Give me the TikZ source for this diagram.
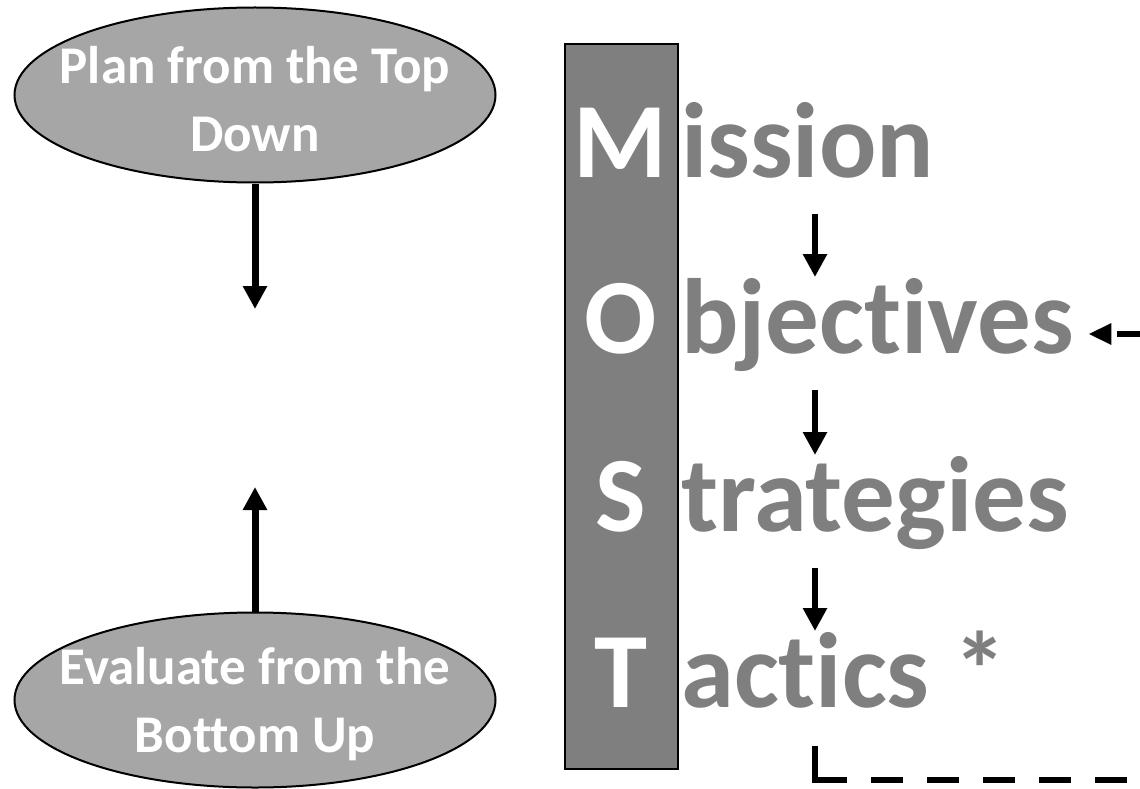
\documentclass[tikz,border=0pt]{standalone}
\usepackage{fontspec}
\setmainfont{Carlito}[Ligatures=NoCommon]
\usetikzlibrary{shapes.geometric,arrows.meta,calc}
\definecolor{ovalgray}{HTML}{A6A6A6}
\definecolor{bargray}{HTML}{7F7F7F}
\definecolor{wordgray}{HTML}{7F7F7F}

\begin{document}
\begin{tikzpicture}[x=1pt,y=-1pt,
    oval/.style={ellipse, draw=black, line width=2pt, fill=ovalgray,
                 minimum width=481pt, minimum height=175pt, inner sep=0pt},
    ovaltext/.style={align=center, text=white, inner sep=0pt,
                     font=\fontsize{53}{68}\selectfont\bfseries},
    bigletter/.style={anchor=base, text=white, inner sep=0pt,
                      font=\fontsize{107}{107}\selectfont\bfseries},
    word/.style={anchor=base west, text=wordgray, inner sep=0pt,
                 font=\fontsize{107}{107}\selectfont\bfseries},
    bigflow/.style={line width=7pt, -{Triangle[width=23pt,length=23pt]}},
    flow/.style={line width=6pt, -{Triangle[width=23pt,length=23pt]}},
    fbline/.style={line width=6pt}]

  \useasboundingbox (0,0) rectangle (1140,789);
  \clip (0,0) rectangle (1140,789);

  % planning ovals
  \node[oval] (plan) at (255,95) {};
  \node[ovaltext] (plantext) at ($(plan.center)+(0,4)$) {Plan from the Top\\Down};
  \node[oval] (eval) at (255,700) {};
  \node[ovaltext] (evaltext) at ($(eval.center)+(0,4)$) {Evaluate from the\\Bottom Up};
  \coordinate (planend) at (255,309);
  \coordinate (evalend) at (255,487);
  \draw[bigflow] (plan.south) -- (planend);
  \draw[bigflow] (eval.north) -- (evalend);

  % MOST bar
  \node[draw=black, line width=2pt, fill=bargray, inner sep=0pt,
        minimum width=113pt, minimum height=725pt, anchor=north west]
        (most) at (564,43) {};

  \foreach \ltr/\rest/\nm/\bl in {M/ission/mission/177,
                                  O/bjectives/objectives/353,
                                  S/trategies/strategies/531,
                                  T/{actics *}/tactics/707}{
    \node[bigletter] (\nm-cap) at (620.5,\bl) {\ltr};
    \node[word] (\nm) at (681,\bl) {\rest};
  }

  \coordinate (axis) at (815,0);
  \draw[flow] ($(mission.base -| axis)+(0,37)$) -- ($(objectives.base -| axis)+(0,-76)$);
  \draw[flow] ($(objectives.base -| axis)+(0,37)$) -- ($(strategies.base -| axis)+(0,-76)$);
  \draw[flow] ($(strategies.base -| axis)+(0,37)$) -- ($(tactics.base -| axis)+(0,-76)$);

  % feedback from tactics back to objectives
  \coordinate (fbtop) at ($(tactics.base -| axis)+(0,39)$);
  \coordinate (fbcorner) at ($(tactics.base -| axis)+(0,73)$);
  \coordinate (fbtip) at ($(objectives.base east)+(14,-19)$);
  \draw[fbline] (fbtop) -- (fbcorner) -- ++(32,0);
  \draw[fbline, dash pattern=on 32pt off 24pt, -{Triangle[width=20pt,length=23pt]}]
        ($(fbcorner)+(56,0)$) -- ++(392,0) |- (fbtip);
\end{tikzpicture}
\end{document}
